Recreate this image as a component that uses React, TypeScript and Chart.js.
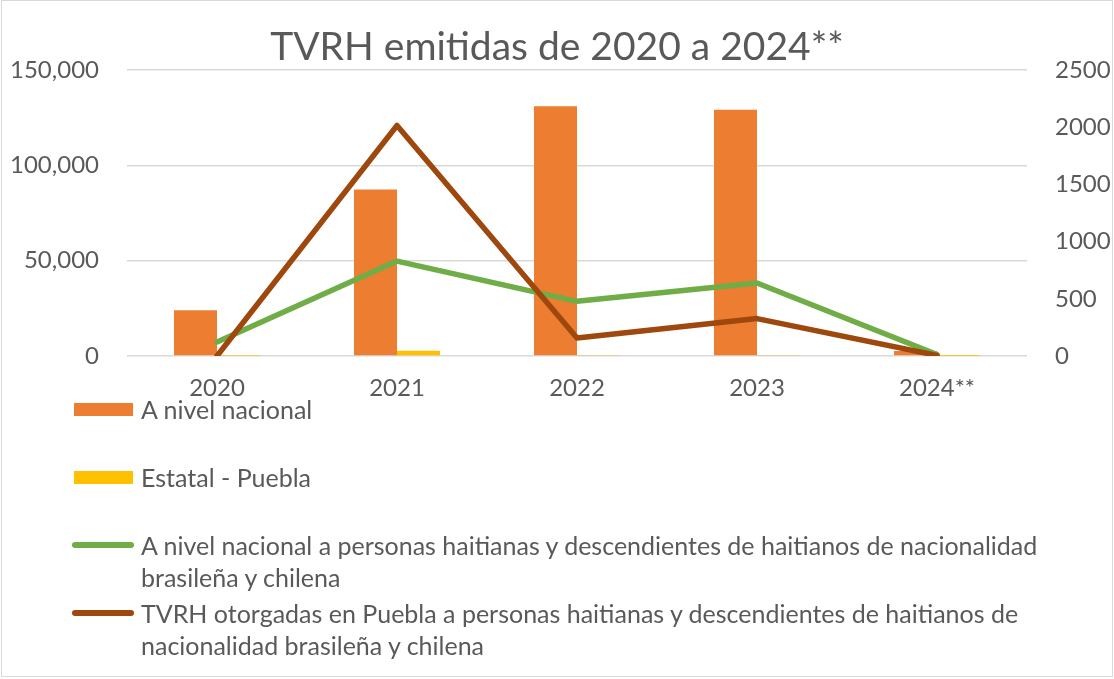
import React, { useEffect, useRef } from "react";
import { Chart, registerables } from "chart.js";

Chart.register(...registerables);

// ---- Data ----
const categories = ["2020", "2021", "2022", "2023", "2024**"];
const nacional = [24000, 87300, 131000, 129100, 2600];
const estatalPuebla = [100, 2800, 300, 250, 20];
const haitianosNacional = [7300, 49750, 28650, 38250, 800];
const haitianosPuebla = [0, 2014, 157, 327, 5];

const leftTickValues = [0, 50000, 100000, 150000];
const rightTickValues = [0, 500, 1000, 1500, 2000, 2500];

const titleText = "TVRH emitidas de 2020 a 2024**";
const legendLines = [
  ["A nivel nacional"],
  ["Estatal - Puebla"],
  [
    "A nivel nacional a personas haitianas y descendientes de haitianos de nacionalidad",
    "brasileña y chilena",
  ],
  [
    "TVRH otorgadas en Puebla a personas haitianas y descendientes de haitianos de",
    "nacionalidad brasileña y chilena",
  ],
];

// ---- Styles ----
const FONT = "Lato, 'Open Sans', sans-serif";
const TEXT = "#595959";
const ORANGE = "#ED7D31";
const YELLOW = "#FFC000";
const GREEN = "#70AD47";
const BROWN = "#9E480E";
const GRID = "#d9d9d9";

const legendKinds = [
  { kind: "box", color: ORANGE },
  { kind: "box", color: YELLOW },
  { kind: "line", color: GREEN },
  { kind: "line", color: BROWN },
];

const CANVAS_H = 400;

export default function App() {
  const canvasRef = useRef<HTMLCanvasElement | null>(null);

  useEffect(() => {
    if (!canvasRef.current) return;
    const chart = new Chart(canvasRef.current, {
      type: "bar",
      data: {
        labels: categories,
        datasets: [
          {
            type: "bar",
            label: "A nivel nacional",
            data: nacional,
            backgroundColor: ORANGE,
            yAxisID: "y",
            order: 2,
            categoryPercentage: 0.478,
            barPercentage: 1,
          },
          {
            type: "bar",
            label: "Estatal - Puebla",
            data: estatalPuebla,
            backgroundColor: YELLOW,
            yAxisID: "y",
            order: 3,
            categoryPercentage: 0.478,
            barPercentage: 1,
          },
          {
            type: "line",
            label: legendLines[2].join(" "),
            data: haitianosNacional,
            borderColor: GREEN,
            backgroundColor: GREEN,
            borderWidth: 5.5,
            pointRadius: 0,
            borderJoinStyle: "round",
            borderCapStyle: "round",
            yAxisID: "y",
            order: 1,
          },
          {
            type: "line",
            label: legendLines[3].join(" "),
            data: haitianosPuebla,
            borderColor: BROWN,
            backgroundColor: BROWN,
            borderWidth: 5.5,
            pointRadius: 0,
            borderJoinStyle: "round",
            borderCapStyle: "round",
            yAxisID: "y1",
            order: 0,
          },
        ],
      },
      options: {
        responsive: true,
        maintainAspectRatio: false,
        animation: false,
        layout: { padding: 0 },
        plugins: {
          legend: { display: false },
          tooltip: { enabled: false },
          title: {
            display: true,
            text: titleText,
            color: TEXT,
            font: { family: FONT, size: 39, weight: "normal", lineHeight: 1.1 },
            padding: { top: 26, bottom: 1 },
          },
        },
        scales: {
          x: {
            grid: { display: false, drawTicks: false },
            border: { display: false },
            ticks: {
              color: TEXT,
              font: { family: FONT, size: 24 },
              padding: 18,
              maxRotation: 0,
            },
            afterFit: (scale: any) => {
              scale.height = CANVAS_H - 356;
            },
          },
          y: {
            position: "left",
            min: 0,
            max: 150000,
            afterBuildTicks: (scale: any) => {
              scale.ticks = leftTickValues.map((v) => ({ value: v }));
            },
            grid: { color: GRID, lineWidth: 1.5, drawTicks: false },
            border: { display: false },
            ticks: {
              color: TEXT,
              font: { family: FONT, size: 24 },
              padding: 28,
              callback: (v: any) => Number(v).toLocaleString("en-US"),
            },
            afterFit: (scale: any) => {
              scale.width = 127;
            },
          },
          y1: {
            position: "right",
            min: 0,
            max: 2500,
            afterBuildTicks: (scale: any) => {
              scale.ticks = rightTickValues.map((v) => ({ value: v }));
            },
            grid: { display: false, drawTicks: false },
            border: { display: false },
            ticks: {
              color: TEXT,
              font: { family: FONT, size: 24 },
              padding: 28,
              callback: (v: any) => String(v),
            },
            afterFit: (scale: any) => {
              scale.width = 1114 - 1027;
            },
          },
        },
      },
    } as any);
    return () => chart.destroy();
  }, []);

  return (
    <div
      style={{
        position: "absolute",
        left: 0,
        top: 0,
        width: 1114,
        height: 679,
        background: "#ffffff",
        fontFamily: FONT,
      }}
    >
      <div
        style={{
          position: "absolute",
          left: 1,
          top: 0,
          width: 1112,
          height: 677,
          border: `1px solid ${GRID}`,
          boxSizing: "border-box",
        }}
      />
      <div style={{ position: "absolute", left: 0, top: 0, width: 1114, height: CANVAS_H }}>
        <canvas ref={canvasRef} />
      </div>
      {legendLines.map((lines, i) => {
        const top = 393 + 68 * i;
        const k = legendKinds[i];
        return (
          <div key={i} style={{ position: "absolute", left: 0, top, width: 1114, height: 68 }}>
            {k.kind === "box" ? (
              <div
                style={{
                  position: "absolute",
                  left: 74,
                  top: 16 - 6.5,
                  width: 59,
                  height: 13,
                  background: k.color,
                }}
              />
            ) : (
              <div
                style={{
                  position: "absolute",
                  left: 72,
                  top: 16 - 2.75,
                  width: 62,
                  height: 5.5,
                  borderRadius: 3,
                  background: k.color,
                }}
              />
            )}
            <div
              style={{
                position: "absolute",
                left: 141,
                top: 0,
                color: TEXT,
                fontSize: 25,
                lineHeight: "32px",
                whiteSpace: "nowrap",
              }}
            >
              {lines.map((l, j) => (
                <div key={j}>{l}</div>
              ))}
            </div>
          </div>
        );
      })}
    </div>
  );
}
